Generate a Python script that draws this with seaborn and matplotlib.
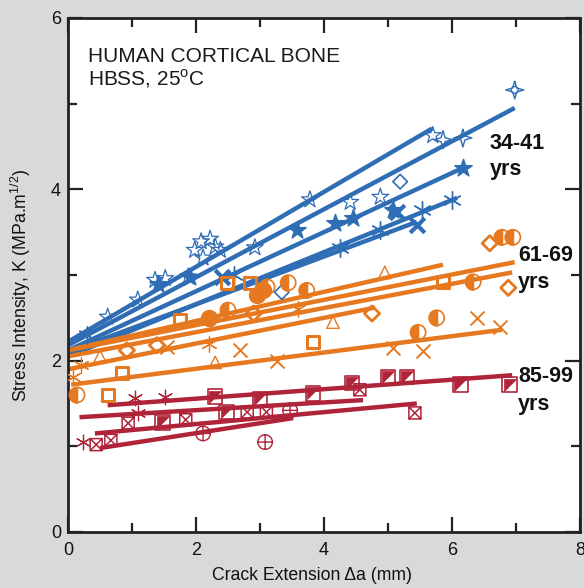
import numpy as np
import pandas as pd
import matplotlib
matplotlib.use("Agg")
import matplotlib.pyplot as plt
from matplotlib.path import Path
from matplotlib.markers import MarkerStyle
from matplotlib.ticker import MultipleLocator
import seaborn as sns

# ------------------------------------------------------------------ data
x_ticks = [0, 2, 4, 6, 8]
y_ticks = [0, 2, 4, 6]
age_groups = ["34-41", "61-69", "85-99"]

# fitted R-curve lines (start / end crack extension, start / end K)
blue_fit_a0 = [0.0, 0.0, 0.0, 0.0, 0.0]
blue_fit_a1 = [5.69, 6.98, 6.17, 6.08, 5.45]
blue_fit_k0 = [2.22, 2.18, 2.12, 2.05, 2.10]
blue_fit_k1 = [4.71, 4.95, 4.25, 3.90, 3.62]

orange_fit_a0 = [0.0, 0.0, 0.10, 0.0, 0.05]
orange_fit_a1 = [6.98, 6.94, 5.86, 4.80, 6.78]
orange_fit_k0 = [2.12, 2.05, 2.14, 1.90, 1.72]
orange_fit_k1 = [3.15, 3.03, 3.12, 2.62, 2.36]

red_fit_a0 = [0.62, 0.18, 0.42, 0.50]
red_fit_a1 = [6.94, 4.61, 5.45, 3.52]
red_fit_k0 = [1.48, 1.34, 1.15, 0.98]
red_fit_k1 = [1.83, 1.54, 1.50, 1.33]

# 34-41 yrs measured points
blue_openstar_a = [0.62, 1.09, 1.36, 1.52, 1.88, 1.98, 2.08, 2.11, 2.22, 2.30, 2.38, 2.92, 3.78, 4.41, 4.88, 5.70]
blue_openstar_k = [2.51, 2.71, 2.94, 2.96, 2.98, 3.29, 3.39, 3.20, 3.42, 3.33, 3.29, 3.32, 3.88, 3.85, 3.91, 4.63]
blue_filledstar_a = [1.40, 1.90, 3.58, 4.17, 4.45, 5.08, 6.17]
blue_filledstar_k = [2.90, 2.98, 3.52, 3.61, 3.67, 3.76, 4.25]
blue_asterisk_a = [0.30, 2.60, 4.25, 4.88, 5.53, 6.00]
blue_asterisk_k = [2.30, 3.00, 3.31, 3.52, 3.76, 3.88]
blue_cross_a = [2.40, 5.14, 5.45]
blue_cross_k = [2.98, 3.73, 3.58]
blue_diamond_a = [0.92, 3.34, 5.19]
blue_diamond_k = [2.12, 2.80, 4.09]
blue_sparkle_a = [5.86, 6.17, 6.98]
blue_sparkle_k = [4.58, 4.60, 5.16]

# 61-69 yrs measured points
orange_halfcircle_a = [0.14, 2.50, 3.11, 3.44, 3.73, 5.47, 5.76, 6.33, 6.78, 6.95]
orange_halfcircle_k = [1.60, 2.59, 2.86, 2.91, 2.82, 2.33, 2.50, 2.92, 3.44, 3.44]
orange_dot_a = [2.20, 2.95, 3.05]
orange_dot_k = [2.50, 2.77, 2.82]
orange_square_a = [0.63, 0.84, 1.75, 2.48, 2.84, 3.83, 5.86]
orange_square_k = [1.60, 1.86, 2.47, 2.91, 2.91, 2.22, 2.92]
orange_diamond_a = [0.92, 1.39, 2.90, 4.75, 6.59, 6.88]
orange_diamond_k = [2.12, 2.18, 2.55, 2.55, 3.37, 2.85]
orange_triangle_a = [0.50, 2.30, 4.14, 4.95]
orange_triangle_k = [2.05, 1.98, 2.45, 3.03]
orange_cross_a = [1.55, 2.69, 3.26, 5.08, 5.55, 6.39, 6.75]
orange_cross_k = [2.16, 2.12, 2.00, 2.15, 2.11, 2.50, 2.39]
orange_asterisk_a = [0.08, 0.20, 2.20, 3.60]
orange_asterisk_k = [1.81, 1.95, 2.20, 2.60]

# 85-99 yrs measured points
red_halfsquare_a = [1.48, 2.30, 2.48, 3.00, 3.83, 4.44, 5.00, 5.30, 6.13, 6.90]
red_halfsquare_k = [1.28, 1.58, 1.40, 1.55, 1.62, 1.74, 1.81, 1.81, 1.72, 1.72]
red_boxcross_a = [0.44, 0.67, 0.94, 1.84, 2.80, 3.10, 4.56, 5.42]
red_boxcross_k = [1.02, 1.07, 1.27, 1.31, 1.40, 1.40, 1.66, 1.39]
red_crosscircle_a = [2.11, 3.08, 3.47]
red_crosscircle_k = [1.15, 1.05, 1.42]
red_star_a = [0.23, 1.04, 1.09, 1.52]
red_star_k = [1.05, 1.56, 1.39, 1.58]

# ------------------------------------------------------------------ style
BLUE = "#2f6db4"
ORANGE = "#e6781f"
RED = "#b0243a"
BG = "#d8d9db"

M, L = Path.MOVETO, Path.LINETO
box_cross = Path([(-1, -1), (1, -1), (1, 1), (-1, 1), (-1, -1), (1, 1), (-1, 1), (1, -1)],
                 [M, L, L, L, L, L, M, L])
cross_circle = Path.make_compound_path(
    Path.unit_circle(),
    Path([(-1, 0), (1, 0)], [M, L]),
    Path([(0, -1), (0, 1)], [M, L]))
sparkle = Path([(0, 1), (0.22, 0.22), (1, 0), (0.22, -0.22), (0, -1),
                (-0.22, -0.22), (-1, 0), (-0.22, 0.22), (0, 1)])
tri_ul = Path([(-1, 1), (1, 1), (-1, -1), (-1, 1)])
half_left = MarkerStyle("o", fillstyle="left")

sns.set_theme(style="ticks")
plt.rcParams["font.family"] = ["Liberation Sans", "DejaVu Sans"]
plt.rcParams["mathtext.fontset"] = "custom"
plt.rcParams["mathtext.rm"] = "Liberation Sans"

fig = plt.figure(figsize=(5.84, 5.88), dpi=100, facecolor=BG)
ax = fig.add_axes([68 / 584, 56 / 588, 512 / 584, 514 / 588])
ax.set_facecolor("white")

# fitted lines
rows = []
for grp, a0s, a1s, k0s, k1s in [
        ("34-41", blue_fit_a0, blue_fit_a1, blue_fit_k0, blue_fit_k1),
        ("61-69", orange_fit_a0, orange_fit_a1, orange_fit_k0, orange_fit_k1),
        ("85-99", red_fit_a0, red_fit_a1, red_fit_k0, red_fit_k1)]:
    for i, (a0, a1, k0, k1) in enumerate(zip(a0s, a1s, k0s, k1s)):
        rows.append(dict(a=a0, K=k0, line=f"{grp}-{i}", group=grp))
        rows.append(dict(a=a1, K=k1, line=f"{grp}-{i}", group=grp))
lines_df = pd.DataFrame(rows)
palette = dict(zip(age_groups, [BLUE, ORANGE, RED]))
sns.lineplot(data=lines_df, x="a", y="K", units="line", hue="group", palette=palette,
             estimator=None, sort=False, linewidth=3.2, legend=False, ax=ax, zorder=2,
             solid_capstyle="butt")


def pts(a, k, marker, color, s=70, open_=True, lw=1.1, z=3):
    kw = dict(x=a, y=k, marker=marker, s=s, ax=ax, legend=False, zorder=z, linewidth=lw)
    m = marker if isinstance(marker, MarkerStyle) else MarkerStyle(marker)
    if not m.is_filled():
        sns.scatterplot(color=color, **kw)
    elif open_:
        sns.scatterplot(color=color, facecolor="none", edgecolor=color, **kw)
    else:
        sns.scatterplot(color=color, facecolor=color, edgecolor=color, **kw)


# blue
pts(blue_openstar_a, blue_openstar_k, "*", BLUE, s=160, lw=0.9)
pts(blue_filledstar_a, blue_filledstar_k, "*", BLUE, s=170, open_=False)
pts(blue_asterisk_a, blue_asterisk_k, (6, 2, 0), BLUE, s=160, lw=1.0)
pts(blue_cross_a, blue_cross_k, "x", BLUE, s=110, lw=3.0)
pts(blue_diamond_a, blue_diamond_k, "D", BLUE, s=55, lw=1.2)
pts(blue_sparkle_a, blue_sparkle_k, sparkle, BLUE, s=170, lw=1.0)
pts(blue_sparkle_a[-1:], blue_sparkle_k[-1:], "o", BLUE, s=25, lw=1.0)

# orange
pts(orange_halfcircle_a, orange_halfcircle_k, half_left, ORANGE, s=120, open_=False)
pts(orange_halfcircle_a, orange_halfcircle_k, "o", ORANGE, s=120, lw=1.2)
pts(orange_dot_a, orange_dot_k, "o", ORANGE, s=130, open_=False)
pts(orange_square_a, orange_square_k, "s", ORANGE, s=75, lw=2.2)
pts(orange_diamond_a, orange_diamond_k, "D", ORANGE, s=60, lw=2.0)
pts(orange_triangle_a, orange_triangle_k, "^", ORANGE, s=80, lw=1.0)
pts(orange_cross_a, orange_cross_k, "x", ORANGE, s=100, lw=1.4)
pts(orange_asterisk_a, orange_asterisk_k, (6, 2, 0), ORANGE, s=120, lw=0.9)

# red
pts(red_halfsquare_a, red_halfsquare_k, tri_ul, RED, s=75, open_=False, lw=0.5)
pts(red_halfsquare_a, red_halfsquare_k, "s", RED, s=110, lw=1.2)
pts(red_boxcross_a, red_boxcross_k, box_cross, RED, s=75, lw=1.1)
pts(red_crosscircle_a, red_crosscircle_k, cross_circle, RED, s=110, lw=1.0)
pts(red_star_a, red_star_k, (6, 2, 0), RED, s=110, lw=0.9)

# axes
ax.set_xlim(x_ticks[0], x_ticks[-1])
ax.set_ylim(y_ticks[0], y_ticks[-1])
ax.set_xticks(x_ticks)
ax.set_yticks(y_ticks)
ax.xaxis.set_minor_locator(MultipleLocator(1))
ax.yaxis.set_minor_locator(MultipleLocator(1))
ax.tick_params(which="both", direction="in", top=True, right=True, width=1.6,
               color="#222222", labelsize=13, labelcolor="#111111")
ax.tick_params(which="major", length=11)
ax.tick_params(which="minor", length=6.5)
ax.tick_params(axis="x", pad=7)
ax.tick_params(axis="y", pad=5)
for sp in ax.spines.values():
    sp.set_linewidth(2.0)
    sp.set_color("#222222")
    sp.set_visible(True)

ax.set_xlabel("Crack Extension \u0394a (mm)", fontsize=12.7, color="#111111")
ax.set_ylabel("Stress Intensity, K (MPa.m$^{1/2}$)", fontsize=12.7, color="#111111")
ax.xaxis.set_label_coords(0.476, -0.069)
ax.yaxis.set_label_coords(-0.068, 0.48)

ax.text(0.31, 5.49, "HUMAN CORTICAL BONE", fontsize=15, color="#1a1a1a", va="baseline")
ax.text(0.31, 5.22, "HBSS, 25$^\\mathregular{o}$C", fontsize=15, color="#1a1a1a", va="baseline")

label_x = [6.59, 7.03, 7.03]
label_top_k = [4.54, 3.23, 1.81]
label_yrs_k = [4.17, 2.85, 1.42]
for g, lx, ky, kb in zip(age_groups, label_x, label_top_k, label_yrs_k):
    ax.text(lx, ky, g, fontsize=15.5, fontweight="bold", va="center", color="#111111")
    ax.text(lx, kb, "yrs", fontsize=15.5, fontweight="bold", va="baseline", color="#111111")

fig.savefig("out.png", dpi=100, facecolor=BG)
